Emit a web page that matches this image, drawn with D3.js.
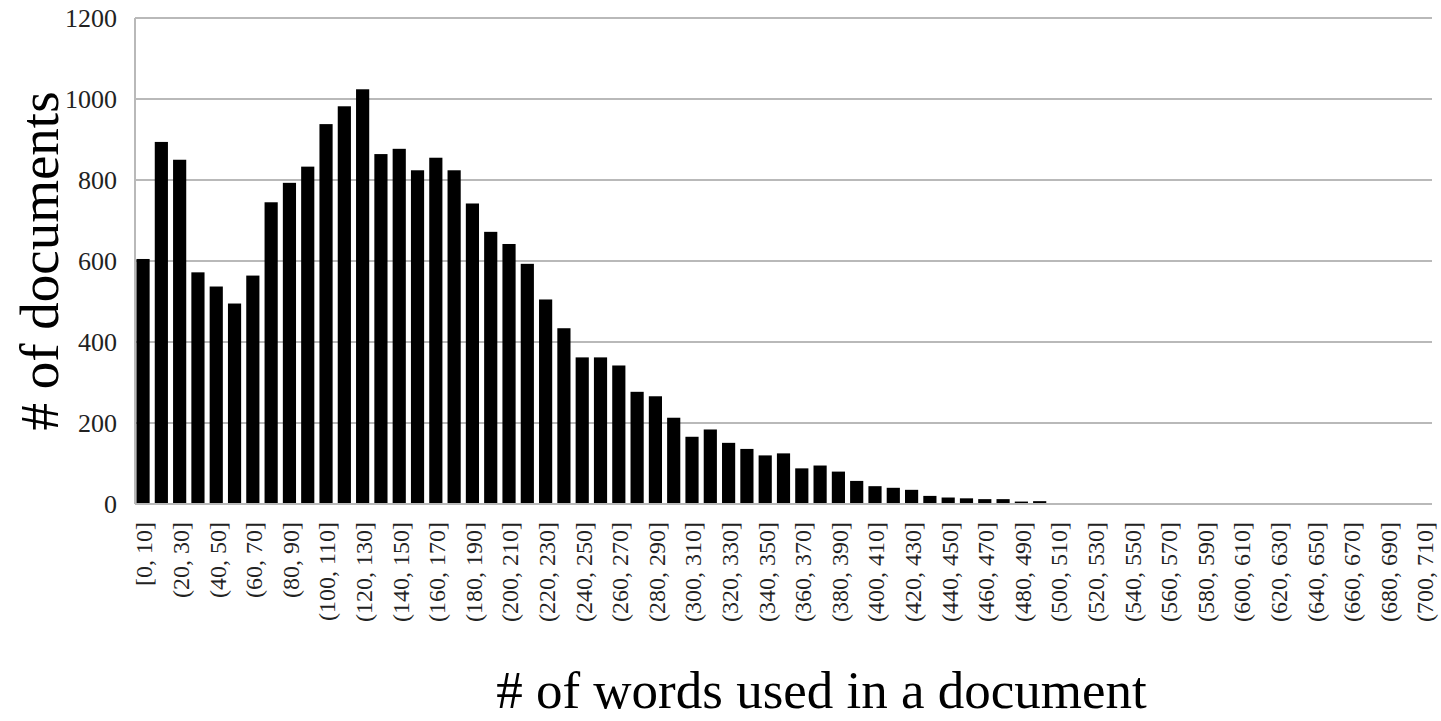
<!DOCTYPE html>
<html>
<head>
<meta charset="utf-8">
<script src="https://cdn.jsdelivr.net/npm/d3@7"></script>
<style>
  html, body { margin: 0; padding: 0; background: #fff; }
  svg { display: block; }
  text { font-family: "Liberation Serif", "Times New Roman", serif; }
</style>
</head>
<body>
<svg id="chart" width="1441" height="721"></svg>
<script>
// Categories: word-count bins
const categories = [
  "[0, 10]", "(10, 20]", "(20, 30]", "(30, 40]", "(40, 50]", "(50, 60]", "(60, 70]", "(70, 80]",
  "(80, 90]", "(90, 100]", "(100, 110]", "(110, 120]", "(120, 130]", "(130, 140]", "(140, 150]",
  "(150, 160]", "(160, 170]", "(170, 180]", "(180, 190]", "(190, 200]", "(200, 210]", "(210, 220]",
  "(220, 230]", "(230, 240]", "(240, 250]", "(250, 260]", "(260, 270]", "(270, 280]", "(280, 290]",
  "(290, 300]", "(300, 310]", "(310, 320]", "(320, 330]", "(330, 340]", "(340, 350]", "(350, 360]",
  "(360, 370]", "(370, 380]", "(380, 390]", "(390, 400]", "(400, 410]", "(410, 420]", "(420, 430]",
  "(430, 440]", "(440, 450]", "(450, 460]", "(460, 470]", "(470, 480]", "(480, 490]", "(490, 500]",
  "(500, 510]", "(510, 520]", "(520, 530]", "(530, 540]", "(540, 550]", "(550, 560]", "(560, 570]",
  "(570, 580]", "(580, 590]", "(590, 600]", "(600, 610]", "(610, 620]", "(620, 630]", "(630, 640]",
  "(640, 650]", "(650, 660]", "(660, 670]", "(670, 680]", "(680, 690]", "(690, 700]", "(700, 710]"
];
// Number of documents per bin
const docCounts = [
  605, 894, 850, 572, 537, 495, 564, 745, 793, 833, 938, 982, 1024, 864, 877,
  824, 855, 824, 742, 672, 642, 593, 505, 434, 362, 362, 342, 277, 266, 213,
  166, 184, 151, 136, 120, 125, 88, 95, 80, 57, 44, 40, 35, 20, 16,
  14, 12, 12, 6, 7, 0, 0, 0, 0, 0, 0, 0, 0, 0, 2,
  0, 0, 0, 0, 2, 0, 0, 0, 0, 0, 0
];
const yTicks = [0, 200, 400, 600, 800, 1000, 1200];
const xTitle = "# of words used in a document";
const yTitle = "# of documents";

const svg = d3.select("#chart");
const margin = { left: 135, right: 9, top: 18, bottom: 217 };
const W = 1441, H = 721;

const x = d3.scaleBand()
  .domain(categories)
  .range([margin.left, W - margin.right])
  .paddingInner(0.28)
  .paddingOuter(0.08);

const y = d3.scaleLinear()
  .domain([0, 1200])
  .range([H - margin.bottom, margin.top]);

const gridColor = "#b9b9b9";

// Gridlines
svg.append("g")
  .selectAll("line")
  .data(yTicks.filter(d => d > 0))
  .join("line")
  .attr("x1", margin.left)
  .attr("x2", W - margin.right)
  .attr("y1", d => y(d))
  .attr("y2", d => y(d))
  .attr("stroke", gridColor)
  .attr("stroke-width", 2);

// Y axis (labels only, plus a gray axis line)
const yAxis = d3.axisLeft(y).tickValues(yTicks).tickSize(0).tickPadding(18).tickFormat(d3.format("d"));
const gy = svg.append("g").attr("transform", `translate(${margin.left},0)`).call(yAxis);
gy.select(".domain").remove();
gy.selectAll("text")
  .attr("font-family", "'Liberation Serif', 'Times New Roman', serif")
  .attr("font-size", 26)
  .attr("fill", "#222");
svg.append("line")
  .attr("x1", margin.left).attr("x2", margin.left)
  .attr("y1", y(1200)).attr("y2", y(0))
  .attr("stroke", gridColor).attr("stroke-width", 2);

// Bars
svg.append("g")
  .selectAll("rect")
  .data(categories.map((c, i) => ({ c, v: docCounts[i] })))
  .join("rect")
  .attr("x", d => x(d.c))
  .attr("y", d => y(d.v))
  .attr("width", x.bandwidth())
  .attr("height", d => y(0) - y(d.v))
  .attr("fill", "#000");

// Baseline
svg.append("line")
  .attr("x1", margin.left).attr("x2", W - margin.right)
  .attr("y1", y(0)).attr("y2", y(0))
  .attr("stroke", gridColor).attr("stroke-width", 2);

// X axis labels (every other category), rotated
const xAxis = d3.axisBottom(x)
  .tickValues(categories.filter((c, i) => i % 2 === 0))
  .tickSize(0);
const gx = svg.append("g").attr("transform", `translate(1,${y(0)})`).call(xAxis);
gx.select(".domain").remove();
gx.selectAll("text")
  .attr("font-family", "'Liberation Serif', 'Times New Roman', serif")
  .attr("font-size", 24)
  .attr("fill", "#222")
  .attr("text-anchor", "end")
  .attr("transform", "rotate(-90)")
  .attr("x", -18)
  .attr("y", 0)
  .attr("dy", "0.35em");

// Axis titles
svg.append("text")
  .attr("x", (margin.left + W - margin.right) / 2 + 38)
  .attr("y", 708)
  .attr("text-anchor", "middle")
  .attr("font-size", 53)
  .attr("fill", "#000")
  .text(xTitle);

svg.append("text")
  .attr("transform", `translate(58, ${(y(0) + y(1200)) / 2}) rotate(-90)`)
  .attr("text-anchor", "middle")
  .attr("font-size", 55)
  .attr("fill", "#000")
  .text(yTitle);
</script>
</body>
</html>
